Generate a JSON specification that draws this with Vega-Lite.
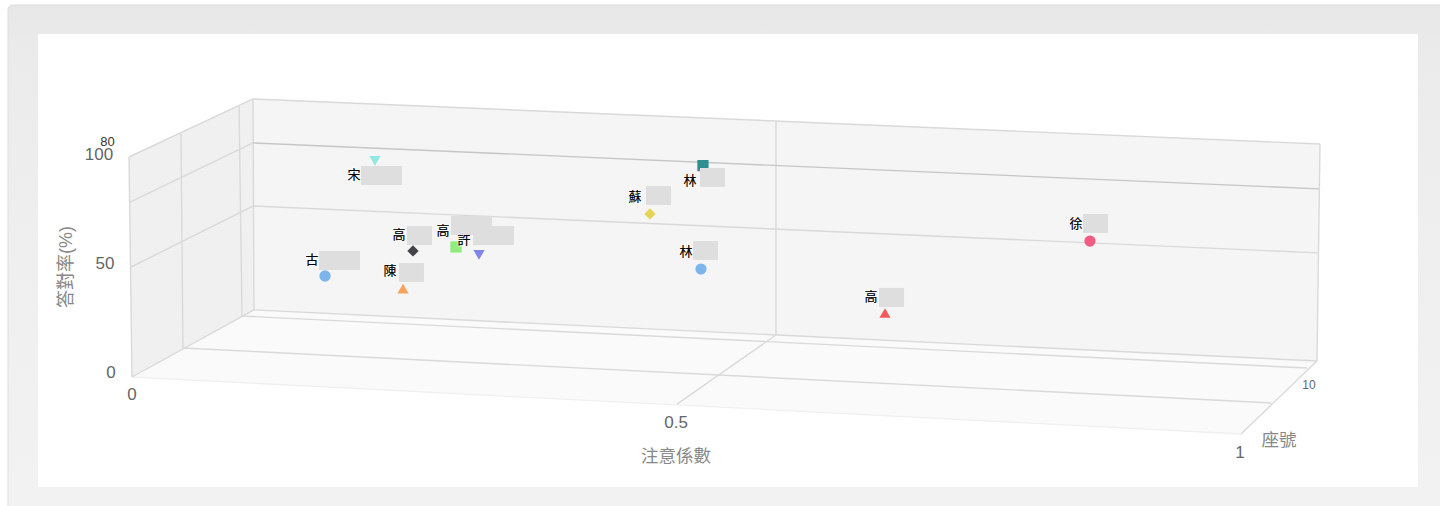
{
"$schema":"https://vega.github.io/schema/vega-lite/v6.json",
"width":1440,"height":506,"autosize":{"type":"fit","contains":"padding"},"padding":0,"background":"#ffffff",
"config":{"view":{"stroke":null},"font":"Liberation Sans, Noto Sans CJK TC"},
"datasets":{
"panels":[{"panel":"outer","x":-0.1119,"x2":1.2,"y":169.1,"y2":-65},{"panel":"inner","x":-0.0848,"x2":1.1606,"y":155.9,"y2":-50}],
"walls":[
{"wall":"floor","x":0,"y":0,"y2":0},{"wall":"floor","x":0.1101,"y":30.5,"y2":-2.9},{"wall":"floor","x":1.0009,"y":9,"y2":-25.9},{"wall":"floor","x":1.0695,"y":7.3,"y2":7.3},
{"wall":"left","x":-0.0027,"y":100,"y2":100},{"wall":"left","x":0,"y":100.6,"y2":0},{"wall":"left","x":0.1101,"y":126.4,"y2":30.5},
{"wall":"back","x":0.1092,"y":126.4,"y2":30.5},{"wall":"back","x":1.0695,"y":106,"y2":7.3},{"wall":"back","x":1.0722,"y":105.9,"y2":105.9}],
"lines":[
{"kind":"frame","x":0.1092,"y":126.4,"x2":1.0722,"y2":105.9},
{"kind":"frame","x":1.0722,"y":105.9,"x2":1.0695,"y2":7.3},
{"kind":"frame","x":1.0695,"y":7.3,"x2":0.1101,"y2":30.5},
{"kind":"frame","x":0.1101,"y":30.5,"x2":0.1092,"y2":126.4},
{"kind":"frame","x":-0.0027,"y":100,"x2":0.1092,"y2":126.4},
{"kind":"frame","x":-0.0027,"y":100,"x2":0,"y2":0},
{"kind":"frame","x":0,"y":0,"x2":0.1101,"y2":30.5},
{"kind":"frame","x":1.0009,"y":-25.9,"x2":1.0695,"y2":7.3},
{"kind":"edge","x":0,"y":0,"x2":1.0009,"y2":-25.9},
{"kind":"frame","x":-0.0009,"y":50,"x2":0.1092,"y2":77.7},
{"kind":"frame","x":0.1101,"y":77.7,"x2":1.0704,"y2":56.4},
{"kind":"frame","x":-0.0018,"y":79.5,"x2":0.1092,"y2":106.4},
{"kind":"strong","x":0.1092,"y":106.4,"x2":1.0713,"y2":85.5},
{"kind":"frame","x":0.0442,"y":110.5,"x2":0.0460,"y2":13.2},
{"kind":"frame","x":0.0966,"y":123.2,"x2":0.0993,"y2":27.7},
{"kind":"frame","x":0.0460,"y":13.2,"x2":1.0289,"y2":-11.8},
{"kind":"frame","x":0.0993,"y":27.7,"x2":1.0605,"y2":4.1},
{"kind":"frame","x":0.5812,"y":115.9,"x2":0.5812,"y2":19.1},
{"kind":"frame","x":0.5812,"y":19.1,"x2":0.4919,"y2":-12.3}],
"students":[
{"name":"古","x":0.1742,"y":45.9},{"name":"宋","x":0.2193,"y":98.2},{"name":"高甲","x":0.2536,"y":57.3},{"name":"陳","x":0.2446,"y":40.2},
{"name":"高乙","x":0.2924,"y":59.1},{"name":"許","x":0.3132,"y":55.5},{"name":"蘇","x":0.4675,"y":74.1},{"name":"林甲","x":0.5153,"y":96.1},
{"name":"林乙","x":0.5135,"y":49.1},{"name":"高丙","x":0.6796,"y":29.1},{"name":"徐","x":0.8646,"y":61.8}],
"labels":[
{"label":"宋","x":0.2004,"y":91.8},{"label":"古","x":0.1625,"y":53.2},{"label":"高","x":0.2410,"y":64.5},{"label":"陳","x":0.2329,"y":48.2},
{"label":"高","x":0.2807,"y":66.4},{"label":"許","x":0.2996,"y":62.3},{"label":"蘇","x":0.4540,"y":81.8},{"label":"林","x":0.5036,"y":89.1},
{"label":"林","x":0.5000,"y":56.8},{"label":"高","x":0.6670,"y":36.4},{"label":"徐","x":0.8520,"y":69.5}],
"masks":[
{"x":0.2067,"x2":0.2437,"y":95.9,"y2":87.3},{"x":0.1688,"x2":0.2058,"y":57.3,"y2":48.6},{"x":0.2482,"x2":0.2708,"y":68.6,"y2":60},
{"x":0.2410,"x2":0.2635,"y":51.8,"y2":43.2},{"x":0.2879,"x2":0.3249,"y":73.2,"y2":64.5},{"x":0.3078,"x2":0.3448,"y":68.6,"y2":60},
{"x":0.4639,"x2":0.4865,"y":86.8,"y2":78.2},{"x":0.5126,"x2":0.5352,"y":95,"y2":86.4},{"x":0.5063,"x2":0.5289,"y":61.8,"y2":53.2},
{"x":0.6742,"x2":0.6968,"y":40.5,"y2":31.8},{"x":0.8583,"x2":0.8809,"y":74.1,"y2":65.5}],
"axisText":[
{"kind":"tick","text":"100","x":-0.0298,"y":100.9},{"kind":"tick","text":"50","x":-0.0244,"y":51.4},{"kind":"tick","text":"0","x":-0.0190,"y":1.8},
{"kind":"tick","text":"0","x":0,"y":-8.2},{"kind":"tick","text":"0.5","x":0.4910,"y":-20.9},{"kind":"tick","text":"1","x":1,"y":-34.5},
{"kind":"small","text":"10","x":1.0623,"y":-3.6},
{"kind":"dark","text":"80","x":-0.0221,"y":106.8},
{"kind":"title","text":"注意係數","x":0.4910,"y":-36.4},{"kind":"title","text":"座號","x":1.0352,"y":-29.1},
{"kind":"ytitle","text":"答對率(%)","x":-0.0587,"y":50}]
},
"encoding":{
"x":{"field":"x","type":"quantitative","scale":{"domain":[-0.11913,1.18051],"nice":false,"zero":false},"axis":null},
"y":{"field":"y","type":"quantitative","scale":{"domain":[-58.636,171.364],"nice":false,"zero":false},"axis":null}
},
"layer":[
{"data":{"name":"panels"},"transform":[{"filter":"datum.panel==='outer'"}],
 "mark":{"type":"rect","clip":true,"cornerRadius":5,"stroke":"#dddddd","strokeWidth":1,"fill":{"gradient":"linear","x1":0,"y1":0,"x2":0,"y2":1,"stops":[{"offset":0,"color":"#e7e7e7"},{"offset":0.1,"color":"#ebebeb"},{"offset":0.5,"color":"#efefef"},{"offset":1,"color":"#f2f2f2"}]}},
 "encoding":{"x2":{"field":"x2"},"y2":{"field":"y2"}}},
{"data":{"name":"panels"},"transform":[{"filter":"datum.panel==='inner'"}],
 "mark":{"type":"rect","fill":"#ffffff"},"encoding":{"x2":{"field":"x2"},"y2":{"field":"y2"}}},
{"data":{"name":"walls"},"transform":[{"filter":"datum.wall==='floor'"}],"mark":{"type":"area","fill":"#fafafa","opacity":1},"encoding":{"y2":{"field":"y2"}}},
{"data":{"name":"walls"},"transform":[{"filter":"datum.wall==='left'"}],"mark":{"type":"area","fill":"#f0f0f0","opacity":1},"encoding":{"y2":{"field":"y2"}}},
{"data":{"name":"walls"},"transform":[{"filter":"datum.wall==='back'"}],"mark":{"type":"area","fill":"#f5f5f5","opacity":1},"encoding":{"y2":{"field":"y2"}}},
{"data":{"name":"lines"},"transform":[{"filter":"datum.kind==='edge'"}],"mark":{"type":"rule","stroke":"#f0f0f0","strokeWidth":1.3},"encoding":{"x2":{"field":"x2"},"y2":{"field":"y2"}}},
{"data":{"name":"lines"},"transform":[{"filter":"datum.kind==='frame'"}],"mark":{"type":"rule","stroke":"#d9d9d9","strokeWidth":1.4},"encoding":{"x2":{"field":"x2"},"y2":{"field":"y2"}}},
{"data":{"name":"lines"},"transform":[{"filter":"datum.kind==='strong'"}],"mark":{"type":"rule","stroke":"#c6c6c6","strokeWidth":1.4},"encoding":{"x2":{"field":"x2"},"y2":{"field":"y2"}}},
{"data":{"name":"students"},"mark":{"type":"point","filled":true,"opacity":1},
 "encoding":{
 "size":{"field":"name","type":"nominal","legend":null,"scale":{"domain":["古","高甲","高乙","陳","許","徐","蘇","林甲","高丙","宋","林乙"],"range":[128,125,144,155,155,128,125,144,155,155,128]}},
 "color":{"field":"name","type":"nominal","legend":null,"scale":{"domain":["古","高甲","高乙","陳","許","徐","蘇","林甲","高丙","宋","林乙"],"range":["#7cb5ec","#434348","#90ed7d","#f7a35c","#8085e9","#f15c80","#e4d354","#2b908f","#f45b5b","#91e8e1","#7cb5ec"]}},
 "shape":{"field":"name","type":"nominal","legend":null,"scale":{"domain":["古","高甲","高乙","陳","許","徐","蘇","林甲","高丙","宋","林乙"],"range":["circle","diamond","square","triangle-up","triangle-down","circle","diamond","square","triangle-up","triangle-down","circle"]}}}},
{"data":{"name":"labels"},"mark":{"type":"text","fontSize":13,"fill":"#000000","align":"center","baseline":"middle","stroke":"#ffffff","strokeWidth":2,"strokeOpacity":0.6},"encoding":{"text":{"field":"label"}}},
{"data":{"name":"labels"},"mark":{"type":"text","fontSize":13,"fill":"#000000","align":"center","baseline":"middle"},"encoding":{"text":{"field":"label"}}},
{"data":{"name":"masks"},"mark":{"type":"rect","fill":"#dedede"},"encoding":{"x2":{"field":"x2"},"y2":{"field":"y2"}}},
{"data":{"name":"axisText"},"transform":[{"filter":"datum.kind==='tick'"}],"mark":{"type":"text","fontSize":17,"fill":"#666666","align":"center","baseline":"middle"},"encoding":{"text":{"field":"text"}}},
{"data":{"name":"axisText"},"transform":[{"filter":"datum.kind==='small'"}],"mark":{"type":"text","fontSize":12,"fill":"#666666","align":"center","baseline":"middle"},"encoding":{"text":{"field":"text"}}},
{"data":{"name":"axisText"},"transform":[{"filter":"datum.kind==='dark'"}],"mark":{"type":"text","fontSize":13,"fill":"#333333","align":"center","baseline":"middle"},"encoding":{"text":{"field":"text"}}},
{"data":{"name":"axisText"},"transform":[{"filter":"datum.kind==='title'"}],"mark":{"type":"text","fontSize":17.5,"fill":"#888888","align":"center","baseline":"middle"},"encoding":{"text":{"field":"text"}}},
{"data":{"name":"axisText"},"transform":[{"filter":"datum.kind==='ytitle'"}],"mark":{"type":"text","fontSize":18,"angle":270,"fill":"#888888","align":"center","baseline":"middle"},"encoding":{"text":{"field":"text"}}}
]
}
